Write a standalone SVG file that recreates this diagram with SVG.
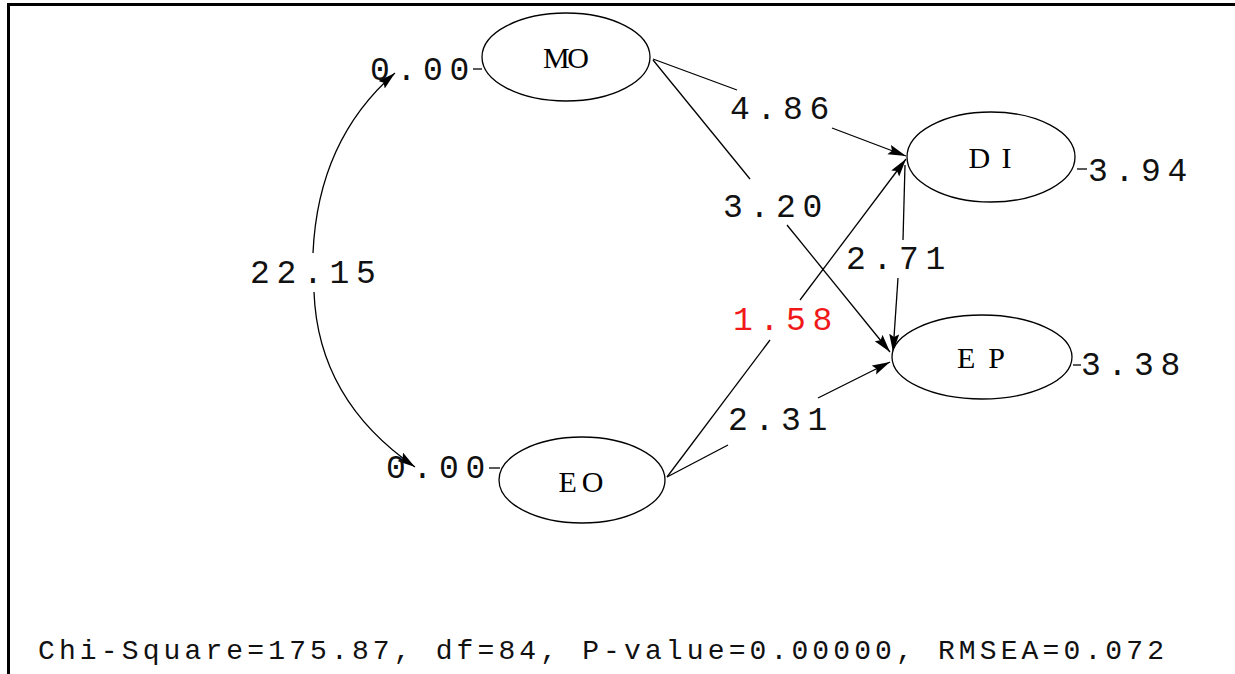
<svg xmlns="http://www.w3.org/2000/svg" width="1235" height="674" viewBox="0 0 1235 674">
<style>
.frame{stroke:#000;stroke-width:3;fill:none}
.node{fill:#fff;stroke:#000;stroke-width:1.3}
.nlab{font-family:"Liberation Serif",serif;font-size:30px;fill:#000;text-anchor:middle}
.val{font-family:"Liberation Mono",monospace;font-size:33px;letter-spacing:6.7px;fill:#111}
.red{fill:#f01818}
.edge{stroke:#000;stroke-width:1.3;fill:none}
.foot{font-family:"Liberation Mono",monospace;font-size:28px;fill:#111}
</style>
<defs>
<marker id="arr" markerUnits="userSpaceOnUse" markerWidth="20" markerHeight="12" refX="18" refY="5" orient="auto">
<path d="M0,0 L18,5 L0,10 L3,5 z" fill="#000"/>
</marker>
</defs>
<rect width="1235" height="674" fill="#fff"/>
<path class="frame" d="M8.5,674 L8.5,4.5 L1235,4.5"/>
<g id="connectors">
<line class="edge" x1="653" y1="59" x2="737" y2="90"/>
<line class="edge" x1="832" y1="128" x2="906" y2="156" marker-end="url(#arr)"/>
<line class="edge" x1="653" y1="60" x2="750" y2="179"/>
<line class="edge" x1="787" y1="225" x2="890" y2="352" marker-end="url(#arr)"/>
<line class="edge" x1="667" y1="477" x2="770" y2="340"/>
<line class="edge" x1="800" y1="300" x2="906" y2="159" marker-end="url(#arr)"/>
<line class="edge" x1="667" y1="477" x2="728" y2="445"/>
<line class="edge" x1="818" y1="398" x2="890" y2="362" marker-end="url(#arr)"/>
<line class="edge" x1="905" y1="165" x2="903" y2="240"/>
<line class="edge" x1="898" y1="278" x2="893" y2="352" marker-end="url(#arr)"/>
<path class="edge" d="M313,253 Q318,140 395,73" marker-end="url(#arr)"/>
<path class="edge" d="M314,292 Q318,400 415,467" marker-end="url(#arr)"/>
<line class="edge" x1="473" y1="69" x2="482" y2="69"/>
<line class="edge" x1="489" y1="468" x2="500" y2="468"/>
<line class="edge" x1="1077" y1="169" x2="1087" y2="169"/>
<line class="edge" x1="1073" y1="365" x2="1081" y2="365"/>
</g>
<g id="MO">
<ellipse class="node" cx="566" cy="57" rx="84" ry="44"/>
<text class="nlab" x="566" y="68" textLength="46" lengthAdjust="spacing">MO</text>
</g>
<g id="EO">
<ellipse class="node" cx="582" cy="480" rx="83" ry="43"/>
<text class="nlab" x="581" y="492" textLength="45" lengthAdjust="spacing">EO</text>
</g>
<g id="DI">
<ellipse class="node" cx="991" cy="157" rx="84" ry="45"/>
<text class="nlab" x="990" y="168" textLength="43" lengthAdjust="spacing">DI</text>
</g>
<g id="EP">
<ellipse class="node" cx="982" cy="357" rx="90" ry="42"/>
<text class="nlab" x="981" y="368" textLength="48" lengthAdjust="spacing">EP</text>
</g>
<g id="labels">
<text class="val" x="370" y="80">0.00</text>
<text class="val" x="386" y="478">0.00</text>
<text class="val" x="730" y="119">4.86</text>
<text class="val" x="723" y="217">3.20</text>
<text class="val" x="846" y="269">2.71</text>
<text class="val red" x="733" y="330">1.58</text>
<text class="val" x="728" y="430">2.31</text>
<text class="val" x="250" y="283">22.15</text>
<text class="val" x="1088" y="181">3.94</text>
<text class="val" x="1081" y="375">3.38</text>
</g>
<text class="foot" x="38" y="659" textLength="1126" lengthAdjust="spacing">Chi-Square=175.87, df=84, P-value=0.00000, RMSEA=0.072</text>
</svg>
